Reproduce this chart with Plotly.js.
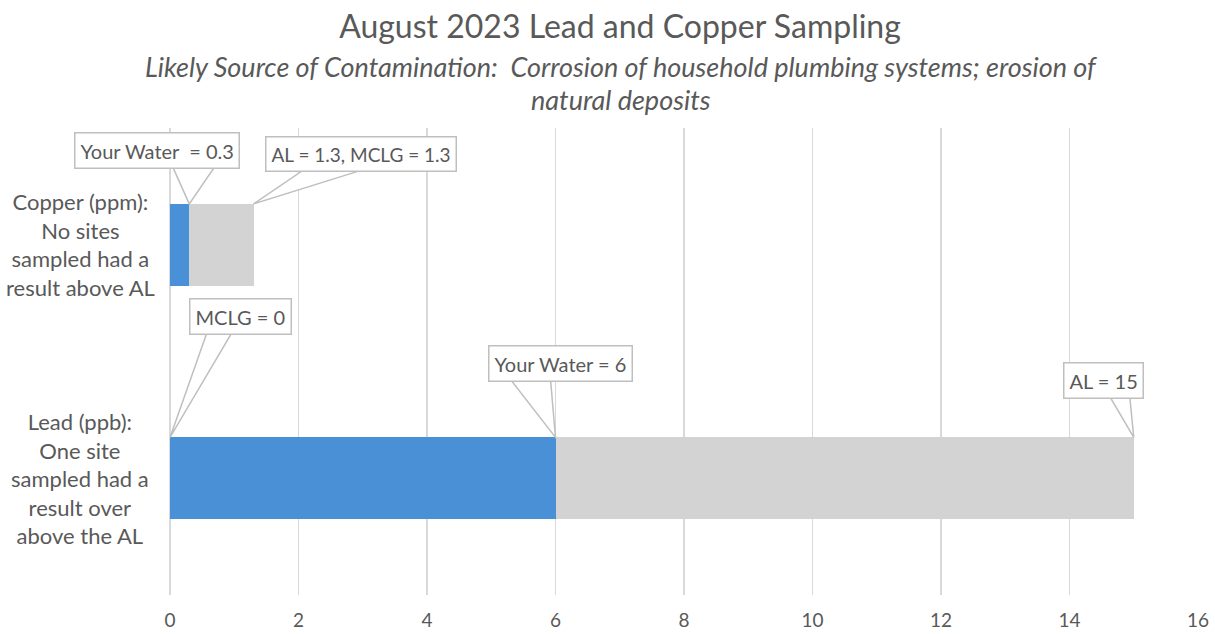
<!DOCTYPE html>
<html>
<head>
<meta charset="utf-8">
<script src="https://cdn.plot.ly/plotly-3.0.1.min.js"></script>
<style>html,body{margin:0;padding:0;background:#fff;}#chart{width:1215px;height:634px;}</style>
</head>
<body>
<div id="chart"></div>
<script>
// ---- data ----
const categories = ['Lead', 'Copper'];
const categoryLabels = [
  'Lead (ppb):<br>One site<br>sampled had a<br>result over<br>above the AL',
  'Copper (ppm):<br>No sites<br>sampled had a<br>result above AL'
];
const yourWater = [6, 0.3];
const actionLevel = [15, 1.3];
const mclg = [0, 1.3];
const yourWaterLabels = ['Your Water = 6', 'Your Water  = 0.3'];
const alLabels = ['AL = 15', 'AL = 1.3, MCLG = 1.3'];
const mclgLabels = ['MCLG = 0', null];
const xTicks = [0, 2, 4, 6, 8, 10, 12, 14, 16];

// ---- styling ----
const FONT = 'Lato, "Open Sans", sans-serif';
const TXT = '#595959';
const BORDER = '#bfbfbf';
const BAR_W = 0.35;
const remainder = actionLevel.map((v, i) => v - yourWater[i]);

const traces = [
  {type: 'bar', orientation: 'h', y: categories, x: yourWater, width: BAR_W,
   marker: {color: '#4a90d6'}, hoverinfo: 'skip', name: 'Your Water'},
  {type: 'bar', orientation: 'h', y: categories, x: remainder, width: BAR_W,
   marker: {color: '#d3d3d3'}, hoverinfo: 'skip', name: 'AL'}
];

// callout specs: [categoryIndex, xValue, text, ax, ay, wedge base dx0, dx1, dy, font size]
const callouts = [
  [1, yourWater[1], yourWaterLabels[1], -32, -53, -17, 26, 38, 20],
  [1, actionLevel[1], alLabels[1], 107, -50, 50, 109, 34, 19],
  [0, mclg[0], mclgLabels[0], 70, -121, 37, 62, 105, 20],
  [0, yourWater[0], yourWaterLabels[0], 5, -74, -45, -5, 58, 20],
  [0, actionLevel[0], alLabels[0], -30, -57, -24, -4, 41, 20]
];

const annotations = [];
const shapes = [];
callouts.forEach(c => {
  const [ci, xv, txt, ax, ay, d0, d1, dy, fs] = c;
  const yTop = ci + BAR_W / 2;
  shapes.push({
    type: 'path', xref: 'x', yref: 'y', xsizemode: 'pixel', ysizemode: 'pixel',
    xanchor: xv, yanchor: yTop,
    path: `M0,0 L${d0},${dy} L${d1},${dy} Z`,
    fillcolor: '#ffffff', line: {color: BORDER, width: 1.5}, layer: 'above'
  });
  annotations.push({
    xref: 'x', yref: 'y', x: xv, y: yTop, text: txt,
    showarrow: true, arrowcolor: 'rgba(0,0,0,0)', arrowwidth: 0.1, arrowhead: 0,
    ax: ax, ay: ay, axref: 'pixel', ayref: 'pixel',
    bgcolor: '#ffffff', bordercolor: BORDER, borderwidth: 1.5, borderpad: 5,
    font: {family: FONT, size: fs, color: TXT}
  });
});

categoryLabels.forEach((lbl, i) => {
  annotations.push({
    xref: 'paper', yref: 'y', x: -0.0875, y: i, text: lbl,
    showarrow: false, xanchor: 'center', yanchor: 'middle', align: 'center',
    font: {family: FONT, size: 22, color: TXT}
  });
});

// subtitle lines (centred on the same axis as the title)
const SUB_X = (621 - 170) / 1028;
annotations.push({
  xref: 'paper', yref: 'paper', x: SUB_X, y: 1, yanchor: 'middle', yshift: 62,
  xanchor: 'center', showarrow: false,
  text: '<i>Likely Source of Contamination:  Corrosion of household plumbing systems; erosion of</i>',
  font: {family: FONT, size: 27, color: TXT}
});
annotations.push({
  xref: 'paper', yref: 'paper', x: SUB_X, y: 1, yanchor: 'middle', yshift: 29,
  xanchor: 'center', showarrow: false,
  text: '<i>natural deposits</i>',
  font: {family: FONT, size: 27, color: TXT}
});

const layout = {
  width: 1215, height: 634,
  margin: {l: 170, r: 17, t: 128, b: 39},
  paper_bgcolor: '#ffffff', plot_bgcolor: '#ffffff',
  barmode: 'stack', showlegend: false,
  title: {text: 'August 2023 Lead and Copper Sampling', xref: 'container', x: 620 / 1215,
          xanchor: 'center', y: 0.957, yanchor: 'middle',
          font: {family: FONT, size: 32, color: TXT}},
  xaxis: {range: [0, 16], tickvals: xTicks, ticktext: xTicks.map(String),
          showgrid: true, gridcolor: '#d9d9d9', gridwidth: 1.5,
          zeroline: true, zerolinecolor: '#d9d9d9', zerolinewidth: 1.5,
          showline: false, ticks: '', ticklabelstandoff: 12,
          tickfont: {family: FONT, size: 19, color: TXT}, fixedrange: true},
  yaxis: {type: 'category', categoryarray: categories, range: [-0.5, 1.5],
          showticklabels: false, showgrid: false, zeroline: false, showline: false,
          ticks: '', fixedrange: true},
  annotations: annotations,
  shapes: shapes
};

Plotly.newPlot('chart', traces, layout, {displayModeBar: false, staticPlot: true});
</script>
</body>
</html>
